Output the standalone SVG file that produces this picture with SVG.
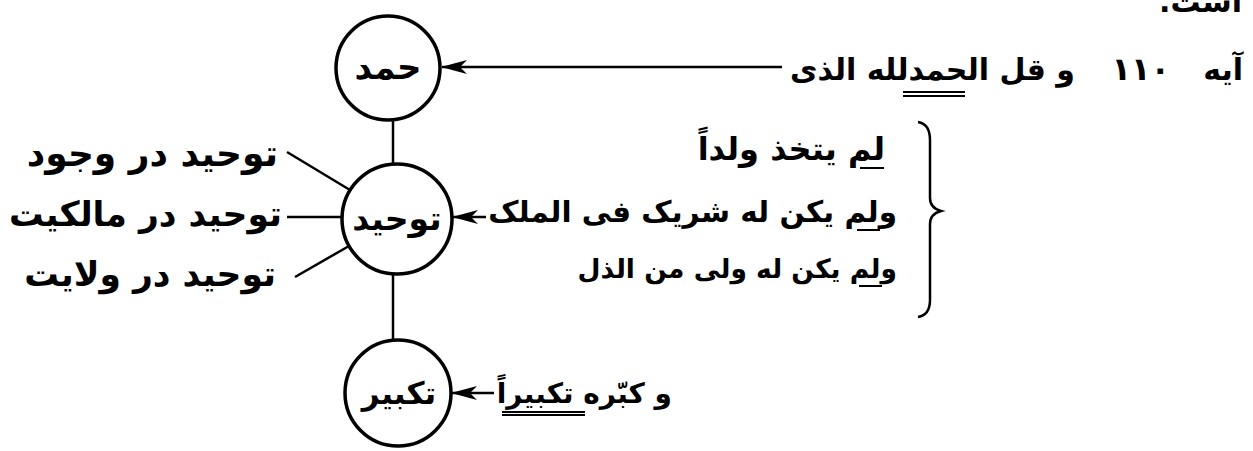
<svg xmlns="http://www.w3.org/2000/svg" width="1253" height="451" viewBox="0 0 1253 451">
<defs>
<style>
.t{font-family:"DejaVu Sans",sans-serif;font-weight:bold;font-size:30px;fill:#000;}
.n{fill:#fff;stroke:#000;stroke-width:3.5;}
.c{stroke:#000;stroke-width:2.5;fill:none;}
.u{stroke:#000;stroke-width:2;}
</style>
<marker id="ah" viewBox="0 0 26 14" refX="25" refY="7" markerWidth="26" markerHeight="14" markerUnits="userSpaceOnUse" orient="auto">
<path d="M0,0 L26,7 L0,14 L7,7 Z" fill="#000"/>
</marker>
</defs>
<rect width="1253" height="451" fill="#fff"/>
<g id="connectors">
<line class="c" x1="782" y1="67" x2="442" y2="67" marker-end="url(#ah)"/>
<line class="c" x1="393" y1="120" x2="393" y2="165"/>
<line class="c" x1="393" y1="273" x2="393" y2="341"/>
<line class="c" x1="287" y1="152" x2="350" y2="190"/>
<line class="c" x1="287" y1="217" x2="342" y2="217"/>
<line class="c" x1="295" y1="277" x2="349" y2="246"/>
<line class="c" x1="486" y1="217" x2="453" y2="217" marker-end="url(#ah)"/>
<line class="c" x1="494" y1="393" x2="452" y2="393" marker-end="url(#ah)"/>
<path class="c" stroke-width="3" d="M918,122 Q930,124 930,140 L930,198 Q930,208 941,211 Q930,214 930,224 L930,300 Q930,315 918,317"/>
</g>
<g id="n-hamd">
<circle class="n" cx="388" cy="68" r="52"/>
<text class="t" x="388" y="79" text-anchor="middle" style="font-size:34px">حمد</text>
</g>
<g id="n-tawhid">
<circle class="n" cx="397" cy="219" r="55"/>
<text class="t" x="397" y="230" text-anchor="middle" style="font-size:33px">توحید</text>
</g>
<g id="n-takbir">
<circle class="n" cx="398" cy="393" r="53"/>
<text class="t" x="399" y="404" text-anchor="middle" style="font-size:31px">تکبیر</text>
</g>
<g id="labels">
<text class="t" x="1242" y="12" direction="rtl" text-anchor="start">است.</text>
<text class="t" x="1243" y="80" direction="rtl" text-anchor="start">آیه</text>
<text class="t" x="1170" y="80" direction="rtl" text-anchor="start" style="font-size:32px">۱۱۰</text>
<text class="t" x="1075" y="80" direction="rtl" text-anchor="start">و قل الحمدلله الذی</text>
<line class="u" x1="903" y1="92" x2="965" y2="92"/>
<line class="u" x1="903" y1="96" x2="965" y2="96"/>
<text class="t" x="278" y="166" direction="rtl" text-anchor="start" style="font-size:36px">توحید در وجود</text>
<text class="t" x="282" y="226" direction="rtl" text-anchor="start" style="font-size:34.5px">توحید در مالکیت</text>
<text class="t" x="276" y="286" direction="rtl" text-anchor="start" style="font-size:34.5px">توحید در ولایت</text>
<text class="t" x="885" y="160" direction="rtl" text-anchor="start" style="font-size:32px">لم یتخذ ولداً</text>
<line class="u" x1="860" y1="168" x2="884" y2="168"/>
<text class="t" x="897" y="222" direction="rtl" text-anchor="start" style="font-size:29.5px">ولم یکن له شریک فی الملک</text>
<line class="u" x1="857" y1="230" x2="880" y2="230"/>
<text class="t" x="897" y="278" direction="rtl" text-anchor="start" style="font-size:26.5px">ولم یکن له ولی من الذل</text>
<line class="u" x1="859" y1="286" x2="882" y2="286"/>
<text class="t" x="672" y="403" direction="rtl" text-anchor="start" style="font-size:28px">و کبّره تکبیراً</text>
<line class="u" x1="502" y1="412" x2="585" y2="412"/>
<line class="u" x1="502" y1="415" x2="585" y2="415"/>
</g>
</svg>
